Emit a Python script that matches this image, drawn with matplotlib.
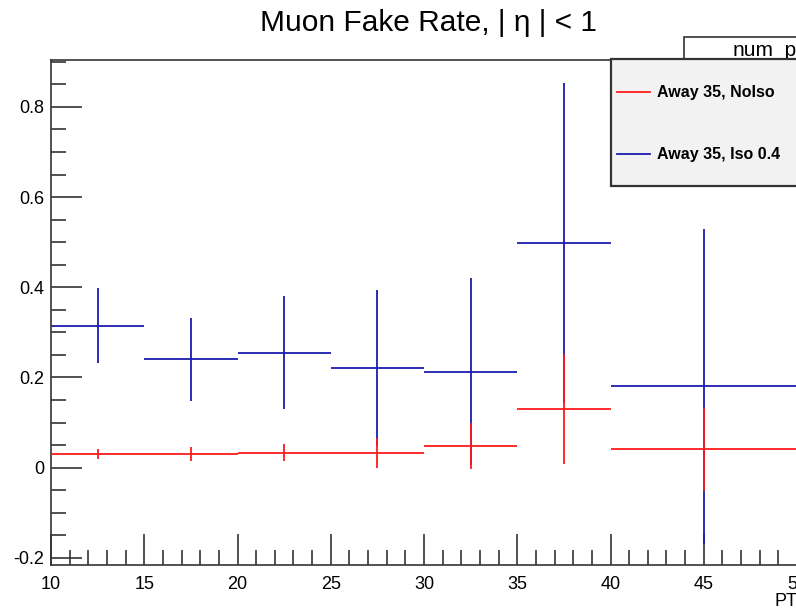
import numpy as np
import matplotlib
matplotlib.use("Agg")
from matplotlib import pyplot as plt
from matplotlib.patches import Rectangle
from matplotlib.lines import Line2D
from matplotlib.ticker import MultipleLocator

plt.rcParams['font.family'] = ['Liberation Sans', 'DejaVu Sans']

# bin centres / half widths (PT)
pt_center = [12.5, 17.5, 22.5, 27.5, 32.5, 37.5, 45.0]
pt_halfw = [2.5, 2.5, 2.5, 2.5, 2.5, 2.5, 5.0]

# Away 35, NoIso
rate_noiso = [0.030, 0.030, 0.033, 0.033, 0.047, 0.130, 0.041]
err_noiso = [0.012, 0.015, 0.019, 0.033, 0.051, 0.122, 0.092]

# Away 35, Iso 0.4
rate_iso = [0.315, 0.240, 0.255, 0.220, 0.213, 0.499, 0.180]
err_iso = [0.083, 0.092, 0.125, 0.173, 0.207, 0.355, 0.349]

W, H = 796, 614
def fx(px):
    return px / W
def fy(py):
    return 1 - py / H

red = '#ff1a1a'
blue = '#1c1cb0'
axcol = '#333333'

fig = plt.figure(figsize=(W / 100, H / 100), dpi=100)
ax = fig.add_axes([fx(51), fy(565), (797 - 51) / W, (565 - 60) / H])

ax.errorbar(pt_center, rate_iso, xerr=pt_halfw, yerr=err_iso, fmt='none',
            ecolor=blue, elinewidth=1.3, capsize=0, zorder=2)
ax.errorbar(pt_center, rate_noiso, xerr=pt_halfw, yerr=err_noiso, fmt='none',
            ecolor=red, elinewidth=1.3, capsize=0, zorder=3)

ax.set_xlim(10, 50)
ax.set_ylim(-0.216, 0.904)
ax.xaxis.set_major_locator(MultipleLocator(5))
ax.xaxis.set_minor_locator(MultipleLocator(1))
ax.yaxis.set_major_locator(MultipleLocator(0.2))
ax.yaxis.set_minor_locator(MultipleLocator(0.05))
ax.yaxis.set_major_formatter(plt.FuncFormatter(lambda v, p: ('%g' % round(v, 2))))
ax.tick_params(which='both', direction='in', top=False, right=False,
               color=axcol, labelsize=13, width=1.2)
ax.tick_params(which='major', length=22)
ax.tick_params(which='minor', length=11)
ax.tick_params(axis='x', pad=8)
ax.tick_params(axis='y', pad=5)
for s in ax.spines.values():
    s.set_color(axcol)
    s.set_linewidth(1.2)

# x axis title
fig.text(fx(797), fy(602), 'PT', ha='right', va='center', fontsize=13)

# title
fig.text(fx(429), fy(23), 'Muon Fake Rate, | η | < 1', ha='center', va='center',
         fontsize=21.5)

# stats box (cut off at the right edge)
fig.add_artist(Rectangle((fx(684), fy(60)), fx(200), 23 / H, transform=fig.transFigure,
                         facecolor='white', edgecolor=axcol, linewidth=1.2, zorder=5))
fig.text(fx(733), fy(51), 'num_pt', ha='left', va='center', fontsize=15, zorder=6)

# legend
fig.add_artist(Rectangle((fx(611), fy(186)), fx(250), (186 - 59) / H, transform=fig.transFigure,
                         facecolor='#f2f2f2', edgecolor=axcol, linewidth=1.6, zorder=7))
leg_labels = ['Away 35, NoIso', 'Away 35, Iso 0.4']
leg_colors = [red, blue]
leg_y = [92, 154]
for lab, c, yy in zip(leg_labels, leg_colors, leg_y):
    fig.add_artist(Line2D([fx(617), fx(650)], [fy(yy), fy(yy)], color=c, linewidth=1.3,
                          transform=fig.transFigure, zorder=8))
    fig.text(fx(657), fy(yy), lab, ha='left', va='center', fontsize=11.5,
             fontweight='bold', zorder=8)

fig.savefig('out.png', dpi=100)
